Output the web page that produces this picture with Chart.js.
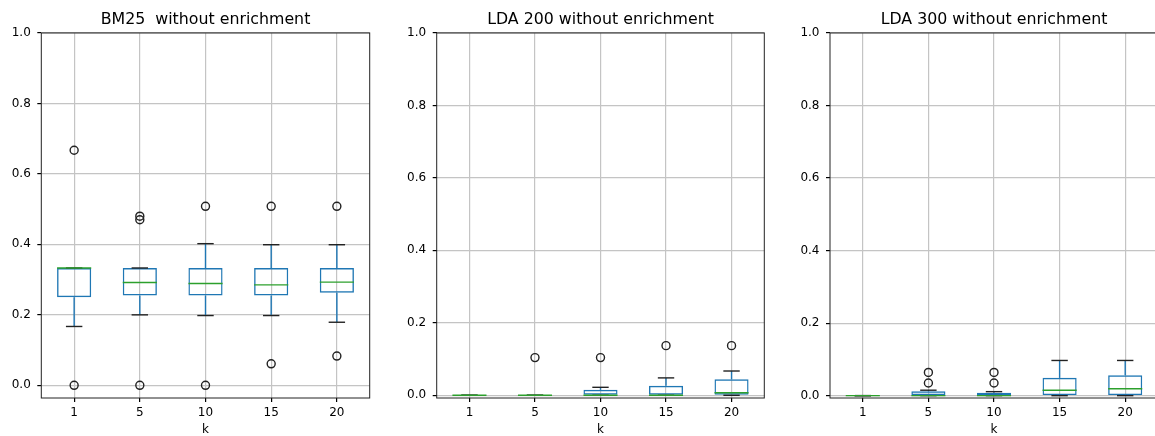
<!DOCTYPE html>
<html>
<head>
<meta charset="utf-8">
<script src="https://cdn.jsdelivr.net/npm/chart.js@4.4.1/dist/chart.umd.min.js"></script>
<style>
  html, body { margin: 0; padding: 0; background: #fff; overflow: hidden; }
  body { width: 1155px; height: 436px; position: relative; }
  .panel { position: absolute; top: 0; height: 436px; }
</style>
</head>
<body>
<div class="panel" style="left:0;width:411px"><canvas id="bm25"></canvas></div>
<div class="panel" style="left:385px;width:431px"><canvas id="lda200"></canvas></div>
<div class="panel" style="left:770px;width:448px"><canvas id="lda300"></canvas></div>
<script>
const kLabels = ['1', '5', '10', '15', '20'];
const yTicks = [0, 0.2, 0.4, 0.6, 0.8, 1.0];

// BM25 without enrichment
const bm25Low = [0.167, 0.2, 0.198, 0.198, 0.179];
const bm25Q1 = [0.25, 0.255, 0.255, 0.255, 0.263];
const bm25Median = [0.333, 0.292, 0.289, 0.285, 0.293];
const bm25Q3 = [0.333, 0.333, 0.333, 0.333, 0.333];
const bm25High = [0.333, 0.333, 0.402, 0.399, 0.399];
const bm25Outliers = [[0, 0.667], [0, 0.47, 0.48], [0, 0.508], [0.061, 0.508], [0.083, 0.508]];

// LDA 200 without enrichment
const lda200Low = [0, 0, 0, 0, 0];
const lda200Q1 = [0, 0, 0, 0, 0];
const lda200Median = [0, 0, 0, 0, 0.007];
const lda200Q3 = [0, 0, 0.015, 0.026, 0.044];
const lda200High = [0, 0, 0.022, 0.048, 0.067];
const lda200Outliers = [[], [0.104], [0.104], [0.137], [0.137]];

// LDA 300 without enrichment
const lda300Low = [0, 0, 0, 0, 0];
const lda300Q1 = [0, 0, 0, 0, 0];
const lda300Median = [0, 0, 0, 0.015, 0.019];
const lda300Q3 = [0, 0.012, 0.008, 0.049, 0.056];
const lda300High = [0, 0.015, 0.011, 0.097, 0.097];
const lda300Outliers = [[], [0.035, 0.064], [0.035, 0.064], [], []];

const BLUE = '#1f77b4';
const GREEN = '#2ca02c';
const GRID = '#c4c4c4';

Chart.defaults.font.family = "'DejaVu Sans', sans-serif";
Chart.defaults.color = '#000';

// whiskers, caps, medians and the four spines, placed through the chart's scales
function boxParts(low, median, q3, high, q1) {
  function hline(ctx, x0, x1, yy, color) {
    ctx.strokeStyle = color;
    ctx.beginPath();
    ctx.moveTo(x0, yy);
    ctx.lineTo(x1, yy);
    ctx.stroke();
  }
  return {
    id: 'boxParts',
    beforeDatasetsDraw(chart) {
      const { ctx, scales: { x, y } } = chart;
      ctx.save();
      ctx.lineWidth = 1.4;
      ctx.strokeStyle = BLUE;
      kLabels.forEach((_, i) => {
        const cx = x.getPixelForValue(i);
        ctx.beginPath();
        ctx.moveTo(cx, y.getPixelForValue(q1[i]));
        ctx.lineTo(cx, y.getPixelForValue(low[i]));
        ctx.moveTo(cx, y.getPixelForValue(q3[i]));
        ctx.lineTo(cx, y.getPixelForValue(high[i]));
        ctx.stroke();
      });
      ctx.restore();
    },
    afterDatasetsDraw(chart) {
      const { ctx, scales: { x, y } } = chart;
      const step = x.width / kLabels.length;
      ctx.save();
      ctx.lineWidth = 1.4;
      kLabels.forEach((_, i) => {
        const cx = x.getPixelForValue(i);
        hline(ctx, cx - step * 0.125, cx + step * 0.125, y.getPixelForValue(low[i]), '#222');
        hline(ctx, cx - step * 0.125, cx + step * 0.125, y.getPixelForValue(high[i]), '#222');
      });
      kLabels.forEach((_, i) => {
        const cx = x.getPixelForValue(i);
        hline(ctx, cx - step * 0.26, cx + step * 0.26, y.getPixelForValue(median[i]), GREEN);
      });
      ctx.restore();
    },
    afterDraw(chart) {
      const { ctx, chartArea: a } = chart;
      ctx.save();
      ctx.strokeStyle = '#222';
      ctx.lineWidth = 1;
      ctx.strokeRect(a.left, a.top, a.right - a.left, a.bottom - a.top);
      ctx.restore();
    },
  };
}

function makePanel(id, title, yMin, axisWidth, low, q1, median, q3, high, outliers) {
  const points = [];
  outliers.forEach((vals, i) => vals.forEach(v => points.push({ x: kLabels[i], y: v })));

  new Chart(document.getElementById(id), {
    type: 'bar',
    data: {
      labels: kLabels,
      datasets: [
        {
          data: q1.map((v, i) => [v, q3[i]]),
          backgroundColor: 'rgba(0,0,0,0)',
          borderColor: BLUE,
          borderWidth: 1.4,
          borderSkipped: false,
          barPercentage: 0.52,
          categoryPercentage: 1.0,
        },
        {
          type: 'scatter',
          data: points,
          pointStyle: 'circle',
          pointRadius: 4,
          pointBorderWidth: 1.4,
          pointBorderColor: '#222',
          pointBackgroundColor: 'rgba(0,0,0,0)',
        },
      ],
    },
    options: {
      responsive: true,
      maintainAspectRatio: false,
      animation: false,
      events: [],
      layout: { padding: 0 },
      plugins: {
        legend: { display: false },
        tooltip: { enabled: false },
        title: {
          display: true,
          text: title,
          color: '#000',
          font: { size: 15.8, weight: 'normal', lineHeight: 1.2 },
          padding: { top: 10.2, bottom: 3.8 },
        },
      },
      scales: {
        x: {
          type: 'category',
          offset: true,
          grid: { offset: false, color: GRID, lineWidth: 1.2, tickColor: '#000', tickLength: 4 },
          border: { display: false },
          ticks: { font: { size: 12 }, padding: 4, maxRotation: 0, color: '#000' },
          title: { display: true, text: 'k', font: { size: 12 }, padding: { top: 0, bottom: -1 }, color: '#000' },
          afterFit: (s) => { s.height = 38; },
        },
        y: {
          min: yMin,
          max: 1.0,
          grid: { color: GRID, lineWidth: 1.2, tickColor: '#000', tickLength: 4 },
          border: { display: false },
          ticks: { font: { size: 12 }, padding: 6.5, color: '#000', callback: (v) => Number(v).toFixed(1) },
          afterBuildTicks: (s) => { s.ticks = yTicks.map(v => ({ value: v })); },
          afterFit: (s) => { s.width = axisWidth; },
        },
        // empty right-hand strip so the title centres over the plot area
        yPad: {
          type: 'linear',
          position: 'right',
          grid: { display: false, drawTicks: false },
          border: { display: false },
          ticks: { display: false },
          afterFit: (s) => { s.width = axisWidth; },
        },
      },
    },
    plugins: [boxParts(low, median, q3, high, q1)],
  });
}

makePanel('bm25', 'BM25  without enrichment', -0.036, 41.3,
  bm25Low, bm25Q1, bm25Median, bm25Q3, bm25High, bm25Outliers);
makePanel('lda200', 'LDA 200 without enrichment', -0.0075, 51.7,
  lda200Low, lda200Q1, lda200Median, lda200Q3, lda200High, lda200Outliers);
makePanel('lda300', 'LDA 300 without enrichment', -0.0065, 60,
  lda300Low, lda300Q1, lda300Median, lda300Q3, lda300High, lda300Outliers);
</script>
</body>
</html>
